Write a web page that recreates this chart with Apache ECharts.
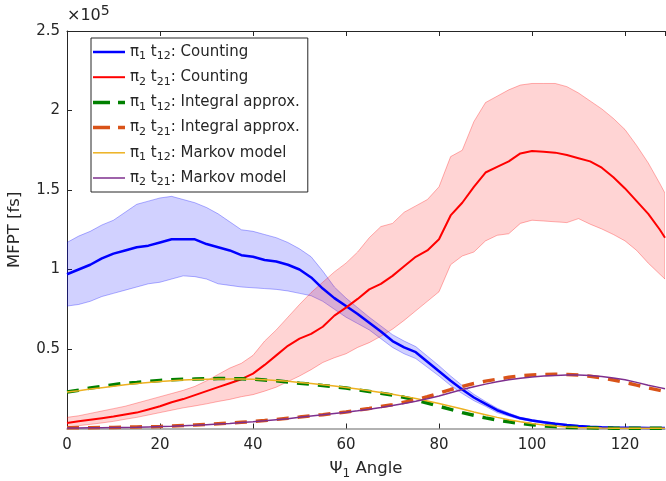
<!DOCTYPE html>
<html>
<head>
<meta charset="utf-8">
<script src="https://cdn.jsdelivr.net/npm/echarts@6/dist/echarts.min.js"></script>
<style>
  html, body { margin: 0; padding: 0; background: #fff; }
  #chart { width: 666px; height: 481px; }
</style>
</head>
<body>
<div id="chart"></div>
<script>
// values in units of 1e5 fs
var angles = [0, 2.5, 5, 7.5, 10, 12.5, 15, 17.5, 20, 22.5, 25, 27.5, 30, 32.5, 35, 37.5, 40, 42.5, 45, 47.5,
  50, 52.5, 55, 57.5, 60, 62.5, 65, 67.5, 70, 72.5, 75, 77.5, 80, 82.5, 85, 87.5, 90, 92.5, 95, 97.5,
  100, 102.5, 105, 107.5, 110, 112.5, 115, 117.5, 120, 122.5, 125, 127.5, 128.6];

var blueMean = [0.97, 1.00, 1.03, 1.07, 1.10, 1.12, 1.14, 1.15, 1.17, 1.19, 1.19, 1.19, 1.16, 1.14, 1.12, 1.09, 1.08, 1.06, 1.05, 1.03,
  1.00, 0.95, 0.88, 0.82, 0.77, 0.72, 0.665, 0.61, 0.55, 0.51, 0.48, 0.42, 0.36, 0.30, 0.245, 0.195, 0.155, 0.115, 0.088, 0.064,
  0.05, 0.04, 0.03, 0.022, 0.015, 0.011, 0.008, 0.006, 0.005, 0.004, 0.003, 0.003, 0.003];
var blueUpper = [1.17, 1.21, 1.24, 1.28, 1.31, 1.36, 1.41, 1.43, 1.45, 1.46, 1.44, 1.42, 1.39, 1.35, 1.30, 1.25, 1.24, 1.22, 1.20, 1.17,
  1.13, 1.08, 0.99, 0.89, 0.82, 0.76, 0.70, 0.645, 0.59, 0.55, 0.515, 0.455, 0.395, 0.33, 0.27, 0.215, 0.17, 0.128, 0.097, 0.071,
  0.056, 0.045, 0.034, 0.025, 0.018, 0.013, 0.010, 0.008, 0.007, 0.006, 0.005, 0.005, 0.005];
var blueLower = [0.77, 0.78, 0.80, 0.83, 0.85, 0.87, 0.89, 0.91, 0.92, 0.94, 0.96, 0.955, 0.94, 0.91, 0.90, 0.89, 0.885, 0.88, 0.875, 0.865,
  0.85, 0.835, 0.80, 0.75, 0.70, 0.66, 0.62, 0.565, 0.51, 0.47, 0.44, 0.385, 0.33, 0.27, 0.22, 0.175, 0.14, 0.10, 0.078, 0.057,
  0.044, 0.035, 0.026, 0.019, 0.012, 0.009, 0.006, 0.004, 0.003, 0.002, 0.001, 0.001, 0.001];

var redMean = [0.035, 0.045, 0.055, 0.065, 0.075, 0.088, 0.10, 0.12, 0.14, 0.165, 0.185, 0.21, 0.235, 0.26, 0.285, 0.31, 0.345, 0.40, 0.46, 0.52,
  0.565, 0.595, 0.64, 0.71, 0.76, 0.815, 0.875, 0.91, 0.96, 1.02, 1.08, 1.12, 1.19, 1.34, 1.42, 1.52, 1.61, 1.645, 1.68, 1.73,
  1.745, 1.74, 1.735, 1.72, 1.70, 1.68, 1.64, 1.58, 1.51, 1.43, 1.35, 1.25, 1.20];
var redUpper = [0.07, 0.08, 0.095, 0.11, 0.125, 0.14, 0.16, 0.18, 0.20, 0.22, 0.24, 0.265, 0.30, 0.34, 0.38, 0.41, 0.46, 0.55, 0.62, 0.70,
  0.78, 0.855, 0.92, 0.985, 1.04, 1.11, 1.20, 1.27, 1.29, 1.36, 1.40, 1.44, 1.52, 1.71, 1.75, 1.93, 2.05, 2.09, 2.13, 2.16,
  2.17, 2.17, 2.17, 2.15, 2.11, 2.06, 2.01, 1.95, 1.88, 1.78, 1.67, 1.54, 1.48];
var redLower = [0.01, 0.018, 0.026, 0.035, 0.045, 0.058, 0.07, 0.085, 0.10, 0.115, 0.13, 0.142, 0.155, 0.17, 0.183, 0.20, 0.213, 0.235, 0.26, 0.295,
  0.33, 0.37, 0.415, 0.445, 0.47, 0.51, 0.54, 0.58, 0.625, 0.68, 0.74, 0.80, 0.86, 1.03, 1.085, 1.11, 1.18, 1.215, 1.225, 1.29,
  1.31, 1.305, 1.30, 1.295, 1.32, 1.285, 1.255, 1.22, 1.18, 1.12, 1.04, 0.97, 0.94];

var integral12 = [0.23, 0.24, 0.255, 0.265, 0.275, 0.285, 0.29, 0.297, 0.302, 0.306, 0.309, 0.311, 0.313, 0.314, 0.314, 0.313, 0.31, 0.305, 0.30, 0.293,
  0.285, 0.278, 0.27, 0.263, 0.255, 0.243, 0.233, 0.222, 0.21, 0.196, 0.18, 0.16, 0.14, 0.12, 0.10, 0.083, 0.067, 0.053, 0.042, 0.032,
  0.024, 0.017, 0.012, 0.008, 0.006, 0.004, 0.003, 0.002, 0.002, 0.001, 0.001, 0.001, 0.001];
var integral21 = [0.004, 0.004, 0.005, 0.006, 0.007, 0.008, 0.01, 0.011, 0.013, 0.016, 0.019, 0.022, 0.026, 0.03, 0.034, 0.039, 0.044, 0.05, 0.057, 0.065,
  0.072, 0.08, 0.087, 0.095, 0.104, 0.115, 0.126, 0.138, 0.15, 0.165, 0.18, 0.20, 0.222, 0.245, 0.265, 0.283, 0.298, 0.31, 0.322, 0.331,
  0.337, 0.34, 0.341, 0.34, 0.336, 0.329, 0.319, 0.305, 0.29, 0.273, 0.255, 0.24, 0.233];
var markov12 = [0.23, 0.238, 0.248, 0.257, 0.266, 0.275, 0.283, 0.29, 0.296, 0.301, 0.305, 0.308, 0.31, 0.311, 0.312, 0.311, 0.309, 0.306, 0.302, 0.297,
  0.29, 0.283, 0.275, 0.267, 0.258, 0.248, 0.238, 0.227, 0.215, 0.202, 0.188, 0.173, 0.157, 0.14, 0.122, 0.104, 0.087, 0.07, 0.055, 0.042,
  0.031, 0.022, 0.015, 0.01, 0.007, 0.005, 0.003, 0.002, 0.002, 0.001, 0.001, 0.001, 0.001];
var markov21 = [0.003, 0.003, 0.004, 0.005, 0.006, 0.007, 0.008, 0.01, 0.012, 0.014, 0.017, 0.02, 0.024, 0.028, 0.032, 0.037, 0.042, 0.048, 0.055, 0.062,
  0.07, 0.078, 0.086, 0.094, 0.102, 0.111, 0.121, 0.132, 0.144, 0.157, 0.171, 0.187, 0.205, 0.225, 0.245, 0.263, 0.279, 0.294, 0.306, 0.316,
  0.324, 0.33, 0.334, 0.336, 0.336, 0.333, 0.327, 0.318, 0.307, 0.29, 0.272, 0.257, 0.25];

var legendNames = ['π1 t12: Counting', 'π2 t21: Counting', 'π1 t12: Integral approx.',
  'π2 t21: Integral approx.', 'π1 t12: Markov model', 'π2 t21: Markov model'];

function pairs(arr) {
  return angles.map(function (x, i) { return [x, arr[i]]; });
}

var font = 'DejaVu Sans';
var ink = '#262626';

// legend samples: solid bar of thickness t, or "long dash, short dash" as in the figure
function solidIcon(t) {
  var a = 10 - t / 2, b = 10 + t / 2;
  return 'path://M0,0 M32,20 M0,' + a + 'H32V' + b + 'H0Z';
}
function dashIcon(t) {
  var a = 10 - t / 2, b = 10 + t / 2;
  return 'path://M0,0 M32,20 M0,' + a + 'H17V' + b + 'H0Z M25,' + a + 'H32V' + b + 'H25Z';
}

function line(name, data, color, width, dash) {
  return {
    name: name, type: 'line', data: pairs(data), symbol: 'none', showSymbol: false,
    lineStyle: { color: color, width: width, type: dash || 'solid' },
    itemStyle: { color: color }, z: 3
  };
}

// shaded band between lower and upper curves, drawn as one polygon in data coordinates
function band(lo, up, edge, fill) {
  return {
    type: 'custom', data: [[angles[0], lo[0]]], silent: true, z: 1, clip: true,
    renderItem: function (params, api) {
      var pts = [];
      for (var i = 0; i < angles.length; i++) pts.push(api.coord([angles[i], up[i]]));
      for (var j = angles.length - 1; j >= 0; j--) pts.push(api.coord([angles[j], lo[j]]));
      return {
        type: 'polygon', shape: { points: pts },
        style: { fill: fill, stroke: edge, lineWidth: 1 }
      };
    }
  };
}

var chart = echarts.init(document.getElementById('chart'));

var series = [
  band(blueLower, blueUpper, 'rgba(0,0,255,0.3)', 'rgba(0,0,255,0.18)'),
  band(redLower, redUpper, 'rgba(255,0,0,0.3)', 'rgba(255,0,0,0.17)'),
  line(legendNames[0], blueMean, '#0000ff', 2.5),
  line(legendNames[1], redMean, '#ff0000', 2),
  line(legendNames[2], integral12, '#008000', 3.5, [12, 9]),
  line(legendNames[3], integral21, '#D95319', 3.5, [12, 9]),
  line(legendNames[4], markov12, '#EDB120', 1.5),
  line(legendNames[5], markov21, '#7E2F8E', 1.5)
];

var legendIcons = [solidIcon(2.5), solidIcon(2), dashIcon(3.5), dashIcon(3.5), solidIcon(1.5), solidIcon(1.5)];

var option = {
  backgroundColor: '#fff',
  animation: false,
  textStyle: { fontFamily: font },
  grid: { left: 67, top: 31, right: 1, bottom: 52.5, containLabel: false, outerBoundsMode: 'none' },
  xAxis: [{
    type: 'value', min: 0, max: 128.6, interval: 20,
    name: '{n|Ψ}{s|1}{n| Angle}', nameLocation: 'middle', nameGap: 29,
    nameTextStyle: { fontFamily: font, color: ink, fontSize: 16.5,
      rich: { n: { fontFamily: font, fontSize: 16.5, color: ink, lineHeight: 22 },
              s: { fontFamily: font, fontSize: 12, color: ink, lineHeight: 22, padding: [10, 0, 0, 0] } } },
    axisLine: { lineStyle: { color: '#999', width: 1.5 } },
    axisTick: { inside: true, length: 5, lineStyle: { color: ink } },
    axisLabel: { color: ink, fontSize: 15, fontFamily: font, margin: 9, showMaxLabel: false },
    splitLine: { show: false }
  }, {
    type: 'value', position: 'top', min: 0, max: 128.6, interval: 20,
    axisLine: { show: true, lineStyle: { color: ink, width: 1 } },
    axisTick: { inside: true, length: 5, lineStyle: { color: ink } },
    axisLabel: { show: false }, splitLine: { show: false }
  }],
  yAxis: {
    type: 'value', min: 0, max: 2.5, interval: 0.5,
    name: 'MFPT [fs]', nameLocation: 'middle', nameGap: 44, nameRotate: 90,
    nameTextStyle: { fontFamily: font, color: ink, fontSize: 16.5 },
    axisLine: { show: true, lineStyle: { color: ink, width: 1 } },
    axisTick: { show: true, inside: true, length: 5, lineStyle: { color: ink } },
    axisLabel: { color: ink, fontSize: 15, fontFamily: font, margin: 7,
      showMinLabel: false,
      formatter: function (v) { return String(v); } },
    splitLine: { show: false }
  },
  legend: {
    orient: 'vertical', left: 91, top: 38,
    data: legendNames.map(function (n, i) { return { name: n, icon: legendIcons[i] }; }),
    backgroundColor: '#fff', borderColor: ink, borderWidth: 1, borderRadius: 0,
    padding: [4, 8, 4, 2], itemGap: 5.2, itemWidth: 32, itemHeight: 20,
    selectedMode: false,
    formatter: function (name) {
      return name.replace(/^π(\d) t(\d+)(.*)$/, '{n|π}{s|$1}{n| t}{s|$2}{n|$3}');
    },
    textStyle: {
      fontFamily: font, fontSize: 15, color: ink,
      rich: {
        n: { fontFamily: font, fontSize: 15, color: ink, lineHeight: 20 },
        s: { fontFamily: font, fontSize: 11, color: ink, lineHeight: 20, padding: [9, 0, 0, 0] }
      }
    }
  },
  graphic: [{
    type: 'text', left: 67, top: 4,
    style: {
      text: '{a|×10}{b|5}',
      rich: {
        a: { fontFamily: font, fontSize: 16, fill: ink, lineHeight: 22 },
        b: { fontFamily: font, fontSize: 14, fill: ink, lineHeight: 22, padding: [0, 0, 10, 0] }
      }
    }
  }],
  series: series
};

chart.setOption(option);
</script>
</body>
</html>
